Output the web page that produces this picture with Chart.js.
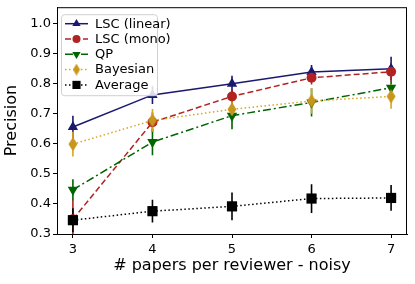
<!DOCTYPE html>
<html>
<head>
<meta charset="utf-8">
<script src="https://cdn.jsdelivr.net/npm/chart.js@4"></script>
<style>
  html, body { margin: 0; padding: 0; background: #fff; }
  #wrap { width: 415px; height: 284px; }
</style>
</head>
<body>
<div id="wrap"><canvas id="lineChart"></canvas></div>
<script>
// data
const papers = [3, 4, 5, 6, 7];
const seriesNames = ['LSC (linear)', 'LSC (mono)', 'QP', 'Bayesian', 'Average'];
const lscLinear = [0.656, 0.763, 0.800, 0.839, 0.850];
const lscLinearErr = [0.038, 0.030, 0.027, 0.024, 0.040];
const lscMono = [0.349, 0.672, 0.758, 0.820, 0.840];
const lscMonoErr = [0.065, 0.033, 0.025, 0.022, 0.030];
const qp = [0.447, 0.606, 0.694, 0.738, 0.787];
const qpErr = [0.035, 0.044, 0.045, 0.047, 0.022];
const bayesian = [0.599, 0.678, 0.715, 0.743, 0.758];
const bayesianErr = [0.041, 0.038, 0.030, 0.043, 0.041];
const average = [0.346, 0.376, 0.392, 0.418, 0.420];
const averageErr = [0.040, 0.038, 0.046, 0.048, 0.043];
const yTicks = [0.3, 0.4, 0.5, 0.6, 0.7, 0.8, 0.9, 1.0];

const FONT = "'DejaVu Sans', sans-serif";

// thin diamond marker like matplotlib 'd'
function thinDiamond(color, w, h) {
    const c = document.createElement('canvas');
    c.width = w; c.height = h;
    const g = c.getContext('2d');
    g.fillStyle = color;
    g.beginPath();
    g.moveTo(w / 2, 0); g.lineTo(w - 0.5, h / 2); g.lineTo(w / 2, h); g.lineTo(0.5, h / 2);
    g.closePath();
    g.fill();
    return c;
}

function pts(ys) {
    return papers.map((x, i) => ({ x: x, y: ys[i] }));
}

const styles = [
    { color: '#191970', dash: [], point: 'triangle', legendPoint: 'triangle', radius: 6, rot: 0 },
    { color: '#b22222', dash: [6, 3], point: 'circle', legendPoint: 'circle', radius: 5, rot: 0 },
    { color: '#006400', dash: [8, 3, 2, 3], point: 'triangle', legendPoint: 'triangle', radius: 6, rot: 180 },
    { color: '#daa520', dash: [1.5, 2.5], point: thinDiamond('#c8961a', 10, 14),
      legendPoint: thinDiamond('#c8961a', 8, 12), radius: 6, rot: 0 },
    { color: '#000000', dash: [1.5, 2.5], point: 'rect', legendPoint: 'rect', radius: 7.2, rot: 0 }
];
const values = [lscLinear, lscMono, qp, bayesian, average];
const errors = [lscLinearErr, lscMonoErr, qpErr, bayesianErr, averageErr];

const datasets = seriesNames.map((name, i) => ({
    label: name,
    data: pts(values[i]),
    errors: errors[i],
    legendPoint: styles[i].legendPoint,
    order: seriesNames.length - i,   // later series on top, like matplotlib
    borderColor: styles[i].color,
    backgroundColor: styles[i].color,
    borderWidth: 1.5,
    borderDash: styles[i].dash,
    pointStyle: styles[i].point,
    pointRadius: styles[i].radius,
    pointRotation: styles[i].rot,
    pointBorderWidth: 0,
    pointBackgroundColor: styles[i].color,
    tension: 0,
    clip: false
}));

// vertical error bars, drawn through the chart scales
const errorBars = {
    id: 'errorBars',
    beforeDatasetsDraw(chart) {
        const ctx = chart.ctx, area = chart.chartArea;
        const xs = chart.scales.x, ys = chart.scales.y;
        ctx.save();
        ctx.beginPath();
        ctx.rect(area.left, area.top, area.right - area.left, area.bottom - area.top);
        ctx.clip();
        chart.data.datasets.forEach(ds => {
            ctx.strokeStyle = ds.borderColor;
            ctx.lineWidth = 1.6;
            ds.data.forEach((p, i) => {
                const px = xs.getPixelForValue(p.x);
                ctx.beginPath();
                ctx.moveTo(px, ys.getPixelForValue(p.y - ds.errors[i]));
                ctx.lineTo(px, ys.getPixelForValue(p.y + ds.errors[i]));
                ctx.stroke();
            });
        });
        ctx.restore();
    }
};

// frame around the plot area + matplotlib-style legend
const frameLegend = {
    id: 'frameLegend',
    afterDraw(chart) {
        const ctx = chart.ctx, a = chart.chartArea;
        ctx.save();
        ctx.strokeStyle = '#000';
        ctx.lineWidth = 1;
        ctx.strokeRect(a.left + 0.5, a.top + 0.5, a.right - a.left - 1, a.bottom - a.top);

        const bx = a.left + 4, by = a.top + 7, bw = 96, bh = 81;
        ctx.fillStyle = 'rgba(255,255,255,0.85)';
        ctx.strokeStyle = '#d0d0d0';
        ctx.beginPath();
        ctx.roundRect(bx + 0.5, by + 0.5, bw, bh, 3);
        ctx.fill();
        ctx.stroke();

        chart.data.datasets.forEach((ds, i) => {
            const y = by + 9.5 + i * 15.3;
            ctx.strokeStyle = ds.borderColor;
            ctx.lineWidth = 1.5;
            ctx.setLineDash(ds.borderDash);
            ctx.beginPath();
            ctx.moveTo(bx + 4, y);
            ctx.lineTo(bx + 27, y);
            ctx.stroke();
            ctx.setLineDash([]);
            ctx.fillStyle = ds.borderColor;
            Chart.helpers.drawPoint(ctx, {
                pointStyle: ds.legendPoint,
                rotation: ds.pointRotation,
                radius: ds.pointRadius * 0.8,
                borderWidth: 0
            }, bx + 15.5, y);
            ctx.fillStyle = '#000';
            ctx.font = '13px ' + FONT;
            ctx.textBaseline = 'middle';
            ctx.fillText(ds.label, bx + 34, y + 0.5);
        });
        ctx.restore();
    }
};

const ctx = document.getElementById('lineChart');
new Chart(ctx, {
    type: 'line',
    data: { datasets: datasets },
    options: {
        responsive: true,
        maintainAspectRatio: false,
        animation: false,
        devicePixelRatio: 1,
        layout: { padding: { left: 2, top: 6, right: 8, bottom: 0 } },
        plugins: {
            legend: { display: false },
            tooltip: { enabled: false }
        },
        scales: {
            x: {
                type: 'linear',
                min: 2.8,
                max: 7.2,
                afterBuildTicks: s => { s.ticks = papers.map(v => ({ value: v })); },
                afterFit: s => { s.height = 50; },
                grid: { drawOnChartArea: false, drawTicks: true, tickLength: 4, tickColor: '#000' },
                border: { color: '#000', width: 1 },
                ticks: { color: '#000', font: { family: FONT, size: 13 }, padding: 4 },
                title: {
                    display: true,
                    text: '# papers per reviewer - noisy',
                    color: '#000',
                    font: { family: FONT, size: 16 },
                    padding: { top: 2, bottom: 9 }
                }
            },
            y: {
                min: 0.3,
                max: 1.055,
                afterBuildTicks: s => { s.ticks = yTicks.map(v => ({ value: v })); },
                afterFit: s => { s.width = 55; s.paddingTop = 0; s.paddingBottom = 0; },
                grid: { drawOnChartArea: false, drawTicks: true, tickLength: 4, tickColor: '#000' },
                border: { color: '#000', width: 1 },
                ticks: {
                    color: '#000',
                    font: { family: FONT, size: 13 },
                    padding: 2,
                    callback: v => v.toFixed(1)
                },
                title: {
                    display: true,
                    text: 'Precision',
                    color: '#000',
                    font: { family: FONT, size: 16 },
                    padding: { top: 0, bottom: 2 }
                }
            }
        }
    },
    plugins: [errorBars, frameLegend]
});
</script>
</body>
</html>
